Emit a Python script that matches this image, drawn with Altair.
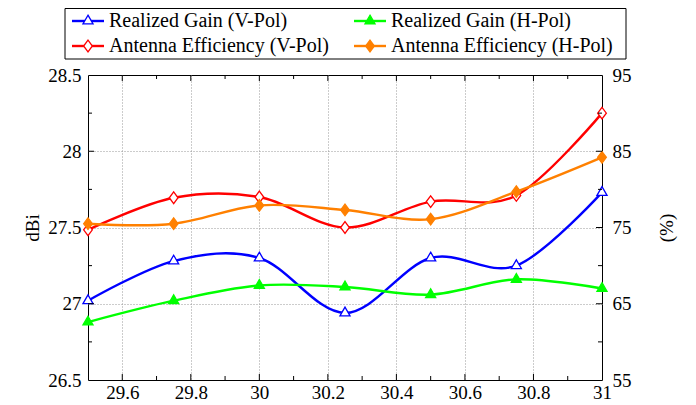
import altair as alt
import pandas as pd

# ---------------- data ----------------
freq = [29.5, 29.75, 30.0, 30.25, 30.5, 30.75, 31.0]
gain_v = [27.02, 27.28, 27.30, 26.94, 27.30, 27.25, 27.73]
gain_h = [26.88, 27.02, 27.12, 27.11, 27.06, 27.16, 27.10]
eff_v = [74.7, 78.9, 79.0, 75.0, 78.4, 79.2, 90.0]
eff_h = [75.5, 75.5, 77.9, 77.3, 76.1, 79.7, 84.2]

series = ["Realized Gain (V-Pol)", "Realized Gain (H-Pol)",
          "Antenna Efficiency (V-Pol)", "Antenna Efficiency (H-Pol)"]
legend_col = [0, 1, 0, 1]
legend_row = [0, 0, 1, 1]

x_labels = [29.6, 29.8, 30.0, 30.2, 30.4, 30.6, 30.8, 31.0]
x_minor = [29.7, 29.9, 30.1, 30.3, 30.5, 30.7, 30.9]
left_labels = [26.5, 27.0, 27.5, 28.0, 28.5]
left_minor = [26.75, 27.25, 27.75, 28.25]
right_labels = [55, 65, 75, 85, 95]
right_minor = [60, 70, 80, 90]

# ---------------- style ----------------
W, H = 514, 305
FONT = "Liberation Serif"
TICK_FS = 19
LEG_FS = 20
colors = ["#0000ff", "#00ff00", "#ff0000", "#ff8000"]
fills = ["white", "#00ff00", "white", "#ff8000"]
TRI = "M0,-1L0.866,0.5L-0.866,0.5Z"
DIA = "M0,-1L0.75,0L0,1L-0.75,0Z"
shapes = [TRI, TRI, DIA, DIA]
GRID_DASH = [1, 2]

gain_df = pd.DataFrame({"freq": freq * 2, "value": gain_v + gain_h,
                        "series": [series[0]] * len(freq) + [series[1]] * len(freq)})
eff_df = pd.DataFrame({"freq": freq * 2, "value": eff_v + eff_h,
                       "series": [series[2]] * len(freq) + [series[3]] * len(freq)})
legend_df = pd.DataFrame({"label": series, "series": series,
                          "col": legend_col, "row": legend_row})

color_scale = alt.Scale(domain=series, range=colors)
fill_scale = alt.Scale(domain=series, range=fills)
shape_scale = alt.Scale(domain=series, range=shapes)

x_axis = alt.Axis(values=x_labels, labelExpr="'' + datum.value", title=None,
                  grid=True, ticks=False, domain=False, labelFlush=False,
                  labelOverlap=False, labelPadding=3,
                  gridOpacity={"condition": {"test": "datum.value >= 31", "value": 0}, "value": 1})
x_enc = alt.X("freq:Q", scale=alt.Scale(domain=[29.5, 31], nice=False, zero=False), axis=x_axis)

yl_axis = alt.Axis(values=left_labels, labelExpr="'' + datum.value", title="dBi",
                   grid=True, ticks=False, domain=False, labelPadding=7,
                   titlePadding=5, labelOverlap=False,
                   gridOpacity={"condition": {"test": "datum.value <= 26.5 || datum.value >= 28.5",
                                              "value": 0}, "value": 1})
yl_enc = alt.Y("value:Q", scale=alt.Scale(domain=[26.5, 28.5], nice=False, zero=False), axis=yl_axis)

yr_axis = alt.Axis(values=right_labels, labelExpr="'' + datum.value", title="(%)",
                   orient="right", grid=False, ticks=False, domain=False,
                   labelPadding=10, titlePadding=26, titleAngle=270, titleBaseline="top",
                   labelOverlap=False)
yr_enc = alt.Y("value:Q", scale=alt.Scale(domain=[55, 95], nice=False, zero=False), axis=yr_axis)

color_enc = alt.Color("series:N", scale=color_scale, legend=None)
stroke_enc = alt.Stroke("series:N", scale=color_scale, legend=None)
fill_enc = alt.Fill("series:N", scale=fill_scale, legend=None)
shape_enc = alt.Shape("series:N", scale=shape_scale, legend=None)

line_kw = dict(interpolate="cardinal", strokeWidth=2.4)
point_kw = dict(size=135, strokeWidth=1.3, opacity=1, filled=False)

# ---------------- left (gain) layer ----------------
gain_lines = alt.Chart(gain_df).mark_line(**line_kw).encode(x=x_enc, y=yl_enc, color=color_enc)
gain_points = alt.Chart(gain_df).mark_point(**point_kw).encode(
    x=x_enc, y=yl_enc, stroke=stroke_enc, fill=fill_enc, shape=shape_enc)

xmaj_df = pd.DataFrame({"freq": x_labels[:-1]})
xmin_df = pd.DataFrame({"freq": x_minor})
tick_kw = dict(color="black", strokeWidth=1)
xt_bot_maj = alt.Chart(xmaj_df).mark_rule(**tick_kw).encode(x=x_enc, y=alt.value(H), y2=alt.value(H - 6))
xt_top_maj = alt.Chart(xmaj_df).mark_rule(**tick_kw).encode(x=x_enc, y=alt.value(0), y2=alt.value(6))
xt_bot_min = alt.Chart(xmin_df).mark_rule(**tick_kw).encode(x=x_enc, y=alt.value(H), y2=alt.value(H - 4))
xt_top_min = alt.Chart(xmin_df).mark_rule(**tick_kw).encode(x=x_enc, y=alt.value(0), y2=alt.value(4))

ylmaj_df = pd.DataFrame({"value": left_labels[1:-1]})
ylmin_df = pd.DataFrame({"value": left_minor})
yl_maj = alt.Chart(ylmaj_df).mark_rule(**tick_kw).encode(y=yl_enc, x=alt.value(0), x2=alt.value(6))
yl_min = alt.Chart(ylmin_df).mark_rule(**tick_kw).encode(y=yl_enc, x=alt.value(0), x2=alt.value(4))

# ---------------- legend (placed above the plot) ----------------
leg_base = alt.Chart(legend_df).transform_calculate(
    mx="datum.col * 282",
    lx1="datum.col * 282 - 16",
    lx2="datum.col * 282 + 16",
    tx="datum.col * 282 + 21",
    ly="-54 + datum.row * 25",
)
box_df = pd.DataFrame({"k": [0]})
leg_box = alt.Chart(box_df).mark_rect(fill="white", stroke="black", strokeWidth=1).encode(
    x=alt.value(-23), x2=alt.value(538), y=alt.value(-66.5), y2=alt.value(-16))
leg_lines = leg_base.mark_rule(strokeWidth=2.4).encode(
    x=alt.X("lx1:Q", scale=None), x2="lx2:Q", y=alt.Y("ly:Q", scale=None), color=color_enc)
leg_points = leg_base.mark_point(**point_kw).encode(
    x=alt.X("mx:Q", scale=None), y=alt.Y("ly:Q", scale=None),
    stroke=stroke_enc, fill=fill_enc, shape=shape_enc)
leg_text = leg_base.mark_text(align="left", baseline="middle", font=FONT, fontSize=LEG_FS,
                              color="black").encode(
    x=alt.X("tx:Q", scale=None), y=alt.Y("ly:Q", scale=None), text="label:N")

left = alt.layer(gain_lines, gain_points, xt_bot_maj, xt_top_maj, xt_bot_min, xt_top_min,
                 yl_maj, yl_min, leg_box, leg_lines, leg_points, leg_text)

# ---------------- right (efficiency) layer ----------------
eff_lines = alt.Chart(eff_df).mark_line(**line_kw).encode(x=x_enc, y=yr_enc, color=color_enc)
eff_points = alt.Chart(eff_df).mark_point(**point_kw).encode(
    x=x_enc, y=yr_enc, stroke=stroke_enc, fill=fill_enc, shape=shape_enc)
yrmaj_df = pd.DataFrame({"value": right_labels[1:-1]})
yrmin_df = pd.DataFrame({"value": right_minor})
yr_maj = alt.Chart(yrmaj_df).mark_rule(**tick_kw).encode(y=yr_enc, x=alt.value(W), x2=alt.value(W - 6))
yr_min = alt.Chart(yrmin_df).mark_rule(**tick_kw).encode(y=yr_enc, x=alt.value(W), x2=alt.value(W - 4))

right = alt.layer(eff_lines, eff_points, yr_maj, yr_min)

chart = alt.layer(left, right).resolve_scale(y="independent").properties(
    width=W, height=H,
    autosize=alt.AutoSizeParams(type="none"),
    padding={"left": 80, "top": 67, "right": 86, "bottom": 25},
).configure_view(
    stroke="black", strokeWidth=1
).configure_axis(
    labelFont=FONT, labelFontSize=TICK_FS, labelColor="black",
    titleFont=FONT, titleFontSize=TICK_FS, titleFontWeight="normal", titleColor="black",
    gridColor="#999999", gridDash=GRID_DASH, gridWidth=1,
)

chart.save("out.html", embed_options={"renderer": "svg", "actions": False})
